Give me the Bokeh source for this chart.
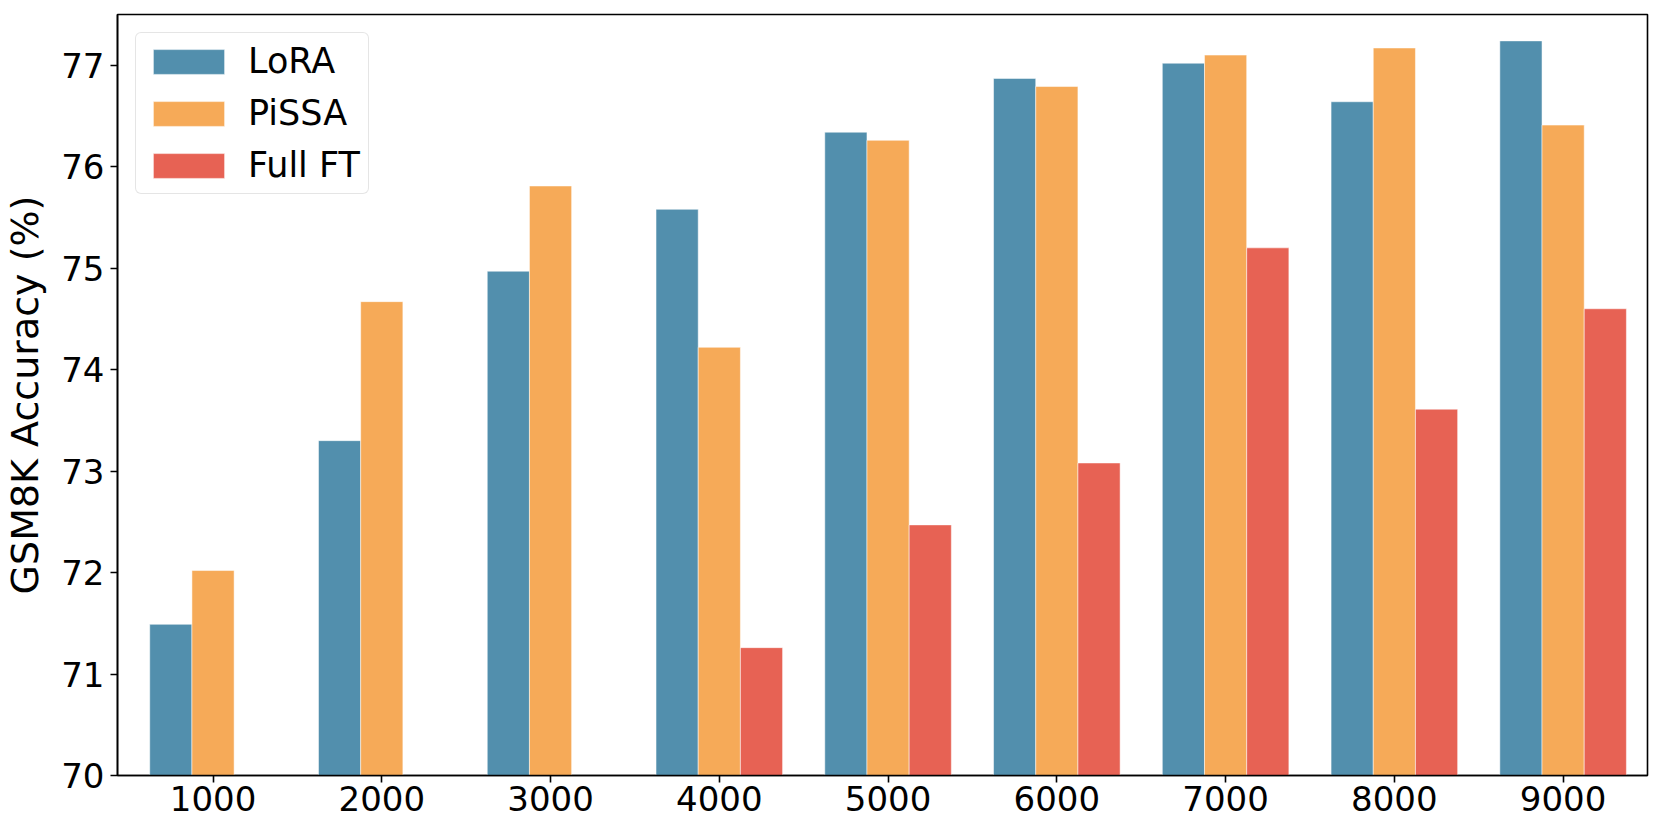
import numpy as np
from bokeh.plotting import figure
from bokeh.models import ColumnDataSource, Range1d, FixedTicker
from bokeh.embed import file_html
from bokeh.resources import INLINE

# ---- data ----
steps = ["1000", "2000", "3000", "4000", "5000", "6000", "7000", "8000", "9000"]
lora = [71.49, 73.30, 74.97, 75.58, 76.34, 76.87, 77.02, 76.64, 77.24]
pissa = [72.02, 74.67, 75.81, 74.22, 76.26, 76.79, 77.10, 77.17, 76.41]
full_ft = [None, None, None, 71.26, 72.47, 73.08, 75.20, 73.61, 74.60]
series_names = ["LoRA", "PiSSA", "Full FT"]
series_colors = ["#528fad", "#f6aa58", "#e76254"]
y_min, y_max = 70, 77.5

FONT = "DejaVu Sans"

idx = np.arange(len(steps))
p = figure(output_backend="svg", toolbar_location=None,
           width=1661, height=837,
           min_border_left=114, min_border_right=14, min_border_top=14, min_border_bottom=62,
           x_range=Range1d(-0.566, len(steps) - 0.5), y_range=Range1d(y_min, y_max))

bw = 0.25
for k, (name, vals, col) in enumerate(zip(series_names, [lora, pissa, full_ft], series_colors)):
    v = np.array([np.nan if a is None else a for a in vals], dtype=float)
    src = ColumnDataSource(dict(x=idx + (k - 1) * bw, top=v))
    p.vbar(x="x", top="top", bottom=y_min, width=bw, source=src,
           fill_color=col, line_color="white", line_alpha=0.5, line_width=1,
           legend_label=name)

p.xgrid.visible = False
p.ygrid.visible = False
p.background_fill_color = "white"
p.border_fill_color = "white"
p.outline_line_color = "black"
p.outline_line_width = 1.6

p.xaxis.ticker = FixedTicker(ticks=list(idx))
p.xaxis.major_label_overrides = {int(i): s for i, s in zip(idx, steps)}
p.yaxis.ticker = FixedTicker(ticks=list(range(70, 78)))
p.yaxis.axis_label = "GSM8K Accuracy (%)"

for ax in (p.xaxis, p.yaxis):
    ax.axis_line_color = "black"
    ax.axis_line_width = 1.6
    ax.major_tick_line_color = "black"
    ax.major_tick_line_width = 1.6
    ax.major_tick_out = 7
    ax.major_tick_in = 0
    ax.minor_tick_line_color = None
    ax.major_label_text_font = FONT
    ax.major_label_text_font_size = "34px"
    ax.major_label_text_color = "black"
    ax.axis_label_text_font = FONT
    ax.axis_label_text_font_size = "38px"
    ax.axis_label_text_font_style = "normal"
    ax.axis_label_text_color = "black"
p.xaxis.major_label_standoff = 3
p.yaxis.major_label_standoff = 6
p.yaxis.axis_label_standoff = 11

lg = p.legend[0]
lg.location = "top_left"
lg.margin = 18
lg.padding = 8
lg.spacing = 12
lg.glyph_width = 89
lg.glyph_height = 31
lg.label_standoff = 15
lg.label_text_font = FONT
lg.label_text_font_size = "35px"
lg.label_text_color = "black"
lg.border_line_color = "#cccccc"
lg.border_line_width = 1.5
lg.border_radius = 6
lg.background_fill_color = "white"
lg.background_fill_alpha = 0.8

open("out.html", "w").write(file_html(p, INLINE))
